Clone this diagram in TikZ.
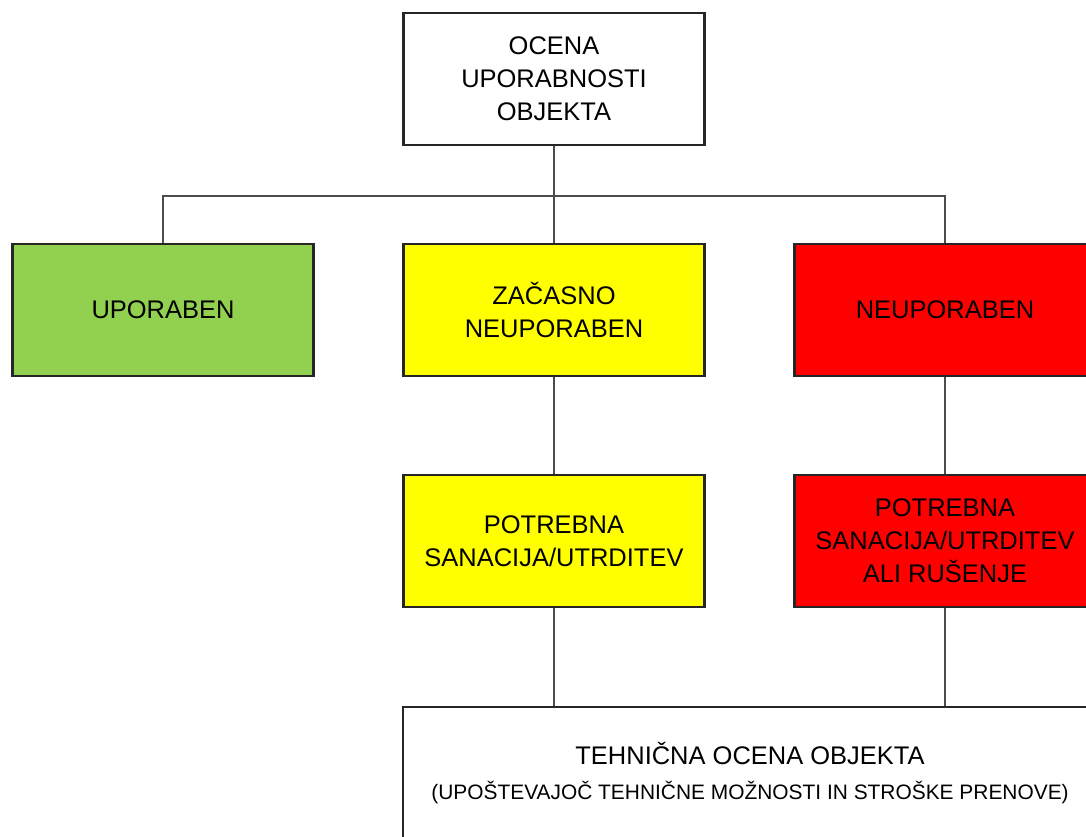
\documentclass[tikz,border=0pt]{standalone}
\usepackage{fontspec}
\setmainfont{Liberation Sans}
\usetikzlibrary{positioning}
\definecolor{okgreen}{HTML}{92D050}
\definecolor{waityellow}{HTML}{FFFF00}
\definecolor{badred}{HTML}{FF0000}

\begin{document}
\begin{tikzpicture}[x=0.02cm, y=-0.02cm, font=\fontsize{14.5}{18.7}\selectfont,
    box/.style={draw=black!85, line width=1.3pt, minimum width=6.02cm, minimum height=2.64cm,
      align=center, inner sep=0pt},
    link/.style={draw=black!70, line width=1.3pt}]
  \useasboundingbox (0,0) rectangle (1086,836);
  \clip (0,0) rectangle (1086,836);
  % the question at the top
  \node[box, fill=white] (ocena) at (554,79) {OCENA\\UPORABNOSTI\\OBJEKTA};
  % the three outcomes
  \node[box, fill=okgreen] (uporaben) at (163,310) {UPORABEN};
  \node[box, fill=waityellow] (zacasno) at (554,310) {ZAČASNO\\NEUPORABEN};
  \node[box, fill=badred] (neuporaben) at (945,310) {NEUPORABEN};
  % what has to be done next
  \node[box, fill=waityellow] (sanacija) at (554,541) {POTREBNA\\SANACIJA/UTRDITEV};
  \node[box, fill=badred] (rusenje) at (945,541) {POTREBNA\\SANACIJA/UTRDITEV\\ALI RUŠENJE};
  \node[box, fill=white, minimum width=13.88cm] (tehnicna) at (750,773)
    {TEHNIČNA OCENA OBJEKTA\\[1pt]{\fontsize{11.9}{18.7}\selectfont(UPOŠTEVAJOČ TEHNIČNE MOŽNOSTI IN STROŠKE PRENOVE)}};
  % connectors
  \draw[link] (ocena.south) -- ++(0,50) coordinate (bus);
  \draw[link] (uporaben.north) |- (bus) -| (neuporaben.north);
  \draw[link] (bus) -- (zacasno.north);
  \draw[link] (zacasno) -- (sanacija);
  \draw[link] (neuporaben) -- (rusenje);
  \draw[link] (sanacija) -- (sanacija |- tehnicna.north);
  \draw[link] (rusenje) -- (rusenje |- tehnicna.north);
\end{tikzpicture}
\end{document}
